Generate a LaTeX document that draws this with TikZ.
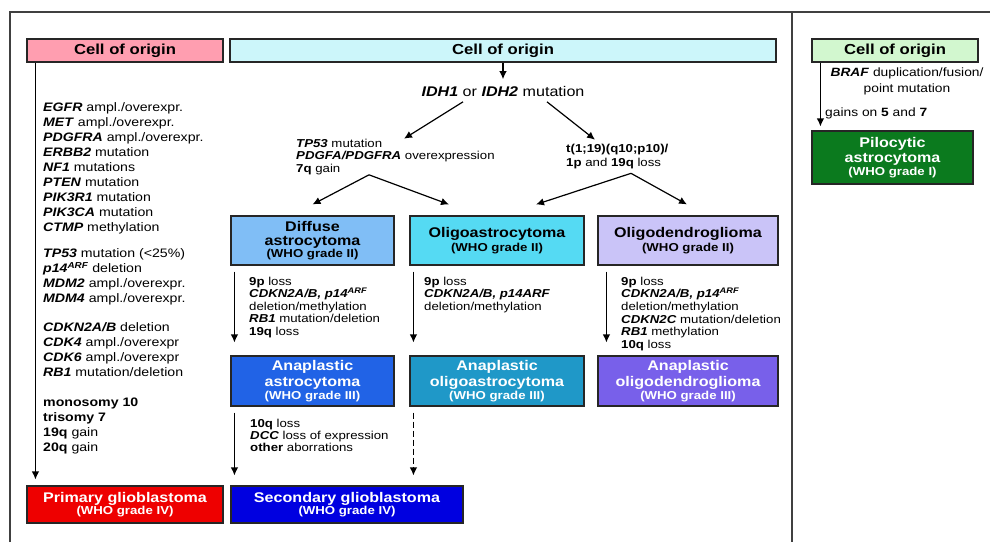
\documentclass[tikz,border=0pt]{standalone}
\usepackage{fontspec}
\setmainfont[FakeStretch=1.15]{Liberation Sans}
\usetikzlibrary{arrows.meta}
\definecolor{cpink}{HTML}{FF9EB0}
\definecolor{ccyan}{HTML}{CCF6FA}
\definecolor{cgreen}{HTML}{D2F7CF}
\definecolor{cdiff}{HTML}{80BEF6}
\definecolor{coligo}{HTML}{55DAF3}
\definecolor{coligod}{HTML}{CAC4F8}
\definecolor{canastro}{HTML}{2163E6}
\definecolor{canoligo}{HTML}{1F98C8}
\definecolor{canoligod}{HTML}{7860EA}
\definecolor{cprim}{HTML}{EE0000}
\definecolor{csec}{HTML}{0000E0}
\definecolor{cpilo}{HTML}{0B7A1E}
\newcommand{\gn}[1]{\textbf{\textit{#1}}}
\newcommand{\whog}[1]{{\fontsize{11.5}{12}\selectfont #1}}
\begin{document}
\begin{tikzpicture}[x=1pt,y=-1pt,
  frame/.style={draw=black!75, line width=1.2pt},
  box/.style={draw=black!85, line width=1.1pt, align=center, inner sep=0pt},
  hdr/.style={box, minimum height=23pt, font=\fontsize{14.5}{15}\selectfont\bfseries},
  ttl/.style={font=\fontsize{14}{15}\selectfont\bfseries},
  wt/.style={text=white},
  arr/.style={-{Latex[length=8pt,width=7.5pt]}, line width=1.2pt},
  ann/.style={anchor=north west, align=left, inner sep=0pt, font=\fontsize{11.5}{12.5}\selectfont},
  lst/.style={anchor=north west, align=left, inner sep=0pt, font=\fontsize{12.3}{15}\selectfont},
]
\useasboundingbox (0,0) rectangle (990,542);
\fill[white] (0,0) rectangle (990,542);
% frame
\draw[frame] (10,542) -- (10,12) -- (990,12);
\draw[frame] (792,12) -- (792,542);

% header boxes
\node[hdr, fill=cpink, minimum width=196pt] (pink) at (125,50.5) {Cell of origin};
\node[hdr, fill=ccyan, minimum width=546pt] (cyan) at (503,50.5) {Cell of origin};
\node[hdr, fill=cgreen, minimum width=166pt] (green) at (895,50.5) {Cell of origin};

% left column
\node[lst] (lA) at (43,102.6) {\gn{EGFR} ampl./overexpr.\\ \gn{MET} ampl./overexpr.\\ \gn{PDGFRA} ampl./overexpr.\\ \gn{ERBB2} mutation\\ \gn{NF1} mutations\\ \gn{PTEN} mutation\\ \gn{PIK3R1} mutation\\ \gn{PIK3CA} mutation\\ \gn{CTMP} methylation};
\node[lst] (lB) at (43,248.6) {\gn{TP53} mutation (<25\%)\\ \gn{p14\textsuperscript{ARF}} deletion\\ \gn{MDM2} ampl./overexpr.\\ \gn{MDM4} ampl./overexpr.};
\node[lst] (lC) at (43,322.6) {\gn{CDKN2A/B} deletion\\ \gn{CDK4} ampl./overexpr\\ \gn{CDK6} ampl./overexpr\\ \gn{RB1} mutation/deletion};
\node[lst] (lD) at (43,397.6) {\textbf{monosomy 10}\\ \textbf{trisomy 7}\\ \textbf{19q} gain\\ \textbf{20q} gain};
\node[box, fill=cprim, minimum width=196pt, minimum height=37pt, ttl, wt] (primary) at (125,504.5) {Primary glioblastoma\\[-3pt]\whog{(WHO grade IV)}};
\draw[arr] ([xshift=9pt]pink.south west) -- ([xshift=9pt,yshift=6pt]primary.north west);

% centre
\node[inner sep=0pt, font=\fontsize{14}{15}\selectfont] (idh) at (503,91.5) {\gn{IDH1} or \gn{IDH2} mutation};
\draw[arr] (cyan.south) -- ([yshift=7pt]idh.north);
\node[ann] (tp) at (296,138.7) {\gn{TP53} mutation\\ \gn{PDGFA/PDGFRA} overexpression\\ \textbf{7q} gain};
\node[ann, font=\fontsize{11.5}{14.5}\selectfont] (tt) at (566,143.7) {\textbf{t(1;19)(q10;p10)/}\\ \textbf{1p} and \textbf{19q} loss};
\draw[arr] ([xshift=-40pt,yshift=-5pt]idh.south) -- ([xshift=108pt]tp.north west);
\draw[arr] ([xshift=44pt,yshift=-5pt]idh.south) -- ([xshift=29pt,yshift=4pt]tt.north west);

% grade II row
\node[box, fill=cdiff, minimum width=163pt, minimum height=49pt, ttl] (diffuse) at (312.5,240.5) {Diffuse\\[-1pt]astrocytoma\\[-2.5pt]\whog{(WHO grade II)}};
\node[box, fill=coligo, minimum width=174pt, minimum height=49pt, ttl] (oligo) at (497,240.5) {Oligoastrocytoma\\[-1pt]\whog{(WHO grade II)}};
\node[box, fill=coligod, minimum width=180pt, minimum height=49pt, ttl] (oligod) at (688,240.5) {Oligodendroglioma\\[-1pt]\whog{(WHO grade II)}};

\draw[arr] ([xshift=73pt]tp.south west) -- ([yshift=11pt]diffuse.north);
\draw[arr] ([xshift=73pt]tp.south west) -- ([xshift=-48pt,yshift=11pt]oligo.north);
\draw[arr] ([xshift=65pt,yshift=-4pt]tt.south west) -- ([xshift=39pt,yshift=11pt]oligo.north);
\draw[arr] ([xshift=65pt,yshift=-4pt]tt.south west) -- ([xshift=-1pt,yshift=11pt]oligod.north);

% annotations
\node[ann] (adiff) at (249,276.7) {\textbf{9p} loss\\ \gn{CDKN2A/B, p14\textsuperscript{ARF}}\\ deletion/methylation\\ \gn{RB1} mutation/deletion\\ \textbf{19q} loss};
\node[ann] (aoligo) at (424,276.7) {\textbf{9p} loss\\ \gn{CDKN2A/B, p14ARF}\\ deletion/methylation};
\node[ann, font=\fontsize{11.5}{12.6}\selectfont] (aoligod) at (621,276.7) {\textbf{9p} loss\\ \gn{CDKN2A/B, p14\textsuperscript{ARF}}\\ deletion/methylation\\ \gn{CDKN2C} mutation/deletion\\ \gn{RB1} methylation\\ \textbf{10q} loss};

% grade III row
\node[box, fill=canastro, minimum width=163pt, minimum height=50pt, ttl, wt] (anastro) at (312.5,381) {Anaplastic\\[0.5pt]astrocytoma\\[-2pt]\whog{(WHO grade III)}};
\node[box, fill=canoligo, minimum width=174pt, minimum height=50pt, ttl, wt] (anoligo) at (497,381) {Anaplastic\\[0.5pt]oligoastrocytoma\\[-2pt]\whog{(WHO grade III)}};
\node[box, fill=canoligod, minimum width=180pt, minimum height=50pt, ttl, wt] (anoligod) at (688,381) {Anaplastic\\[0.5pt]oligodendroglioma\\[-2pt]\whog{(WHO grade III)}};

\draw[arr] ([xshift=4pt,yshift=-6pt]diffuse.south west) -- ([xshift=4pt,yshift=13pt]anastro.north west);
\draw[arr] ([xshift=4pt,yshift=-6pt]oligo.south west) -- ([xshift=4pt,yshift=13pt]anoligo.north west);
\draw[arr] ([xshift=9pt,yshift=-6pt]oligod.south west) -- ([xshift=9pt,yshift=13pt]anoligod.north west);

% grade IV
\node[box, fill=csec, minimum width=232pt, minimum height=37pt, ttl, wt] (secondary) at (347,504.5) {Secondary glioblastoma\\[-3pt]\whog{(WHO grade IV)}};
\node[ann, font=\fontsize{11.5}{12}\selectfont] (adcc) at (250,418.7) {\textbf{10q} loss\\ \gn{DCC} loss of expression\\ \textbf{other} aborrations};
\draw[arr] ([xshift=4pt,yshift=-6pt]anastro.south west) -- ([xshift=4pt,yshift=10pt]secondary.north west);
\draw[arr, dashed, dash pattern=on 6pt off 3pt] ([xshift=4pt,yshift=-6pt]anoligo.south west) -- ([xshift=183pt,yshift=10pt]secondary.north west);

% right column
\node[inner sep=0pt, align=center, font=\fontsize{12}{16}\selectfont] (braf) at (907,81) {\gn{BRAF} duplication/fusion/\\point mutation};
\node[inner sep=0pt, anchor=west, font=\fontsize{12}{14}\selectfont] (gains) at (825,113) {gains on \textbf{5} and \textbf{7}};
\node[box, fill=cpilo, minimum width=161pt, minimum height=53pt, ttl, wt] (pilo) at (892.5,157.5) {Pilocytic\\astrocytoma\\[-2pt]\whog{(WHO grade I)}};
\draw[arr] ([xshift=9pt]green.south west) -- ([xshift=9pt,yshift=4pt]pilo.north west);
\end{tikzpicture}
\end{document}
